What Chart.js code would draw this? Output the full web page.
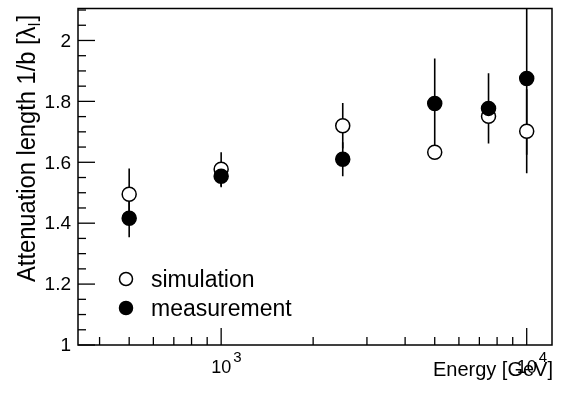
<!DOCTYPE html>
<html>
<head>
<meta charset="utf-8">
<script src="https://cdn.jsdelivr.net/npm/chart.js@4"></script>
<style>
  html, body { margin: 0; padding: 0; background: #fff; }
  canvas { display: block; }
</style>
</head>
<body>
<canvas id="chart" width="564" height="394"></canvas>
<script>
const energies = [500, 1000, 2500, 5000, 7500, 10000];
const simulation = [1.495, 1.577, 1.72, 1.633, 1.751, 1.702];
const simulationErr = [0.085, 0.056, 0.075, 0, 0, 0.138];
const measurement = [1.416, 1.554, 1.61, 1.793, 1.777, 1.875];
const measurementErr = [0.062, 0.036, 0.056, 0.148, 0.115, 0.25];

const yTicks = [1, 1.2, 1.4, 1.6, 1.8, 2];
const xMajorTicks = [1000, 10000];
const xTickExp = ['3', '4'];
const xMinorTicks = [400, 500, 600, 700, 800, 900, 2000, 3000, 4000, 5000, 6000, 7000, 8000, 9000];

const FONT = '"Liberation Sans", Arial, sans-serif';

const toPoints = (ys) => energies.map((e, i) => ({ x: e, y: ys[i] }));

const errorBars = {
  id: 'errorBars',
  beforeDatasetsDraw(chart) {
    const { ctx, chartArea, scales } = chart;
    ctx.save();
    ctx.beginPath();
    ctx.rect(chartArea.left, chartArea.top, chartArea.width, chartArea.height);
    ctx.clip();
    ctx.strokeStyle = '#000';
    ctx.lineWidth = 1.6;
    [[simulation, simulationErr], [measurement, measurementErr]].forEach(([vals, errs]) => {
      vals.forEach((v, i) => {
        if (!errs[i]) return;
        const x = scales.x.getPixelForValue(energies[i]);
        ctx.beginPath();
        ctx.moveTo(x, scales.y.getPixelForValue(v - errs[i]));
        ctx.lineTo(x, scales.y.getPixelForValue(v + errs[i]));
        ctx.stroke();
      });
    });
    ctx.restore();
  }
};

const frameAndLabels = {
  id: 'frameAndLabels',
  afterDraw(chart) {
    const { ctx, chartArea: a, scales } = chart;
    ctx.save();
    ctx.strokeStyle = '#000';
    ctx.fillStyle = '#000';
    ctx.lineWidth = 1.5;
    ctx.strokeRect(a.left, a.top, a.width, a.height);

    // y ticks (inside)
    ctx.lineWidth = 1.3;
    for (let k = 0; k <= 22; k++) {
      const v = 1 + k * 0.05;
      if (v > scales.y.max) break;
      const y = scales.y.getPixelForValue(v);
      const major = k % 4 === 0;
      ctx.beginPath();
      ctx.moveTo(a.left, y);
      ctx.lineTo(a.left + (major ? 17 : 8), y);
      ctx.stroke();
    }
    // x ticks (inside)
    xMinorTicks.concat(xMajorTicks).forEach(v => {
      const x = scales.x.getPixelForValue(v);
      const major = xMajorTicks.includes(v);
      ctx.beginPath();
      ctx.moveTo(x, a.bottom);
      ctx.lineTo(x, a.bottom - (major ? 17 : 8));
      ctx.stroke();
    });

    // y tick labels
    ctx.font = '19px ' + FONT;
    ctx.textAlign = 'right';
    ctx.textBaseline = 'middle';
    yTicks.forEach(v => {
      ctx.fillText(String(v), 71, scales.y.getPixelForValue(v) + 1);
    });

    // x tick labels 10^n
    ctx.textBaseline = 'alphabetic';
    xMajorTicks.forEach((v, i) => {
      const x = scales.x.getPixelForValue(v);
      ctx.font = '18px ' + FONT;
      ctx.textAlign = 'center';
      ctx.fillText('10', x, 373);
      const w = ctx.measureText('10').width;
      ctx.font = '15px ' + FONT;
      ctx.textAlign = 'left';
      ctx.fillText(xTickExp[i], x + w / 2 + 2, 362);
    });

    // x title
    ctx.font = '20px ' + FONT;
    ctx.textAlign = 'right';
    ctx.fillText('Energy [GeV]', 553, 376);

    // y title (rotated, with subscript)
    ctx.save();
    ctx.translate(35, 282);
    ctx.rotate(-Math.PI / 2);
    const main = 'Attenuation length 1/b [\u03bb';
    ctx.font = '26px ' + FONT;
    const w1 = ctx.measureText(main).width;
    const w3 = ctx.measureText(']').width;
    ctx.font = '16px ' + FONT;
    const w2 = ctx.measureText('I').width + 1;
    const s = Math.min(1, 267 / (w1 + w2 + w3));
    ctx.scale(s, 1);
    ctx.textAlign = 'left';
    ctx.font = '26px ' + FONT;
    ctx.fillText(main, 0, 0);
    ctx.font = '16px ' + FONT;
    ctx.fillText('I', w1, 5);
    ctx.font = '26px ' + FONT;
    ctx.fillText(']', w1 + w2, 0);
    ctx.restore();

    // legend
    const legend = [
      { label: 'simulation', fill: '#fff', y: 279 },
      { label: 'measurement', fill: '#000', y: 308 }
    ];
    legend.forEach(item => {
      ctx.beginPath();
      ctx.arc(126, item.y, 6.5, 0, Math.PI * 2);
      ctx.fillStyle = item.fill;
      ctx.fill();
      ctx.lineWidth = 1.5;
      ctx.stroke();
      ctx.fillStyle = '#000';
      ctx.font = '23px ' + FONT;
      ctx.textAlign = 'left';
      ctx.fillText(item.label, 151, item.y + 8);
    });
    ctx.restore();
  }
};

new Chart(document.getElementById('chart'), {
  type: 'scatter',
  data: {
    datasets: [
      {
        label: 'measurement',
        data: toPoints(measurement),
        pointRadius: 7,
        pointBorderWidth: 1.5,
        borderColor: '#000',
        backgroundColor: '#000',
        order: 1
      },
      {
        label: 'simulation',
        data: toPoints(simulation),
        pointRadius: 7,
        pointBorderWidth: 1.5,
        borderColor: '#000',
        backgroundColor: '#fff',
        order: 2
      }
    ]
  },
  options: {
    responsive: false,
    animation: false,
    layout: { padding: { left: 78, right: 12, top: 8, bottom: 49 } },
    plugins: { legend: { display: false }, tooltip: { enabled: false } },
    scales: {
      x: { type: 'logarithmic', min: 340, max: 12100, display: false },
      y: { type: 'linear', min: 1, max: 2.105, display: false }
    }
  },
  plugins: [errorBars, frameAndLabels]
});
</script>
</body>
</html>
